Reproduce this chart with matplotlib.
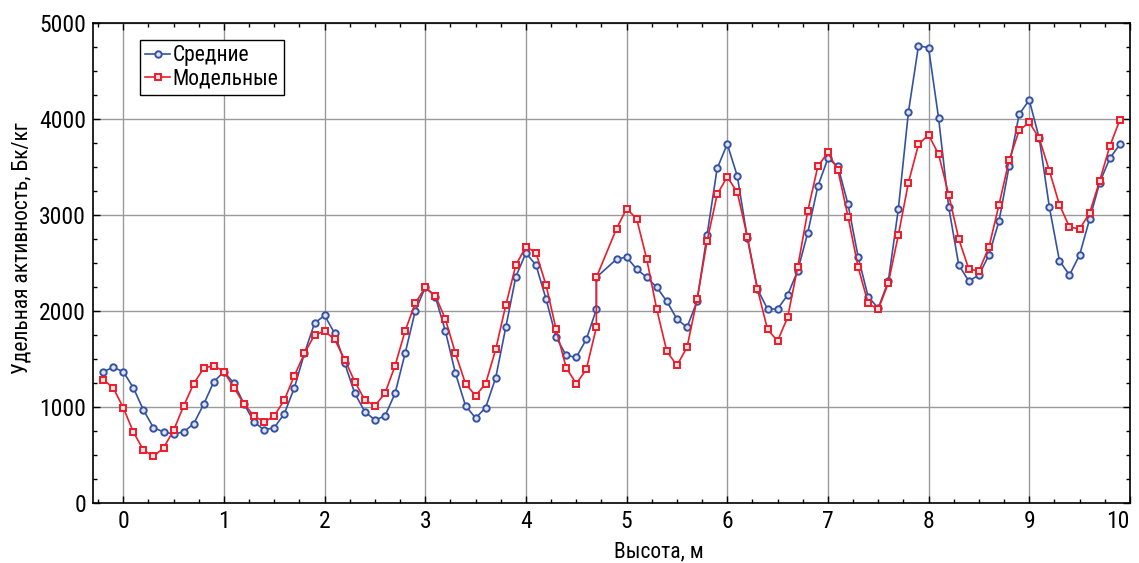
import matplotlib
matplotlib.use('Agg')
import matplotlib.pyplot as plt
from matplotlib.ticker import MultipleLocator
from matplotlib import font_manager

# heights (m); the point at 4.7 is repeated where the two profiles join
heights = [-0.2, -0.1, 0.0, 0.1, 0.2, 0.3, 0.4, 0.5, 0.6, 0.7,
           0.8, 0.9, 1.0, 1.1, 1.2, 1.3, 1.4, 1.5, 1.6, 1.7,
           1.8, 1.9, 2.0, 2.1, 2.2, 2.3, 2.4, 2.5, 2.6, 2.7,
           2.8, 2.9, 3.0, 3.1, 3.2, 3.3, 3.4, 3.5, 3.6, 3.7,
           3.8, 3.9, 4.0, 4.1, 4.2, 4.3, 4.4, 4.5, 4.6, 4.7,
           4.7, 4.9, 5.0, 5.1, 5.2, 5.3, 5.4, 5.5, 5.6, 5.7,
           5.8, 5.9, 6.0, 6.1, 6.2, 6.3, 6.4, 6.5, 6.6, 6.7,
           6.8, 6.9, 7.0, 7.1, 7.2, 7.3, 7.4, 7.5, 7.6, 7.7,
           7.8, 7.9, 8.0, 8.1, 8.2, 8.3, 8.4, 8.5, 8.6, 8.7,
           8.8, 8.9, 9.0, 9.1, 9.2, 9.3, 9.4, 9.5, 9.6, 9.7,
           9.8, 9.9]

mean_act = [1368, 1413, 1368, 1201, 969, 785, 740, 719, 740, 826,
            1031, 1264, 1368, 1247, 1031, 844, 760, 785, 930, 1201,
            1559, 1872, 1955, 1767, 1455, 1142, 951, 865, 906, 1142,
            1559, 1997, 2247, 2149, 1792, 1351, 1014, 885, 993, 1305,
            1830, 2358, 2605, 2479, 2125, 1726, 1538, 1517, 1705, 2017,
            2351, 2540, 2562, 2437, 2351, 2247, 2101, 1917, 1830, 2100,
            2795, 3486, 3740, 3406, 2757, 2229, 2021, 2021, 2167, 2420,
            2816, 3299, 3590, 3507, 3111, 2566, 2149, 2030, 2310, 3065,
            4073, 4764, 4743, 4007, 3083, 2479, 2312, 2375, 2583, 2937,
            3507, 4049, 4198, 3799, 3083, 2524, 2375, 2583, 2958, 3337,
            3590, 3736]

model_act = [1285, 1201, 993, 740, 552, 486, 573, 757, 1010, 1243,
             1406, 1430, 1368, 1201, 1031, 906, 844, 906, 1073, 1326,
             1559, 1750, 1790, 1705, 1493, 1264, 1073, 1014, 1142, 1430,
             1792, 2080, 2247, 2160, 1917, 1559, 1243, 1118, 1243, 1601,
             2059, 2479, 2670, 2608, 2271, 1809, 1410, 1243, 1392, 1830,
             2351, 2858, 3066, 2962, 2542, 2017, 1580, 1434, 1620, 2122,
             2729, 3215, 3399, 3236, 2774, 2229, 1809, 1688, 1934, 2458,
             3042, 3507, 3653, 3466, 2983, 2458, 2080, 2017, 2290, 2792,
             3337, 3736, 3836, 3632, 3212, 2750, 2437, 2417, 2667, 3108,
             3570, 3882, 3966, 3799, 3462, 3108, 2875, 2854, 3021, 3357,
             3716, 3990]

# pick the narrowest family that is installed
names = {f.name for f in font_manager.fontManager.ttflist}
family = 'DejaVu Sans'
for cand in ['Ubuntu Condensed', 'Roboto Condensed', 'Open Sans Condensed',
             'Liberation Sans Narrow', 'Roboto', 'Noto Sans']:
    if cand in names:
        family = cand
        break
plt.rcParams['font.family'] = [family, 'DejaVu Sans']

fig = plt.figure(figsize=(11.39, 5.63), dpi=100)
ax = fig.add_axes([0.0817, 0.1066, 0.9103, 0.8524])

ax.plot(heights, mean_act, color='#3452a4', lw=1.2, marker='o', ms=4.6,
        mfc='#dfe4f4', mec='#3452a4', mew=1.4, label='Средние', zorder=3)
ax.plot(heights, model_act, color='#ec1c2a', lw=1.2, marker='s', ms=4.6,
        mfc='#fde0e2', mec='#ec1c2a', mew=1.4, label='Модельные', zorder=4)

ax.set_xlim(-0.3, 10)
ax.set_ylim(0, 5000)
ax.xaxis.set_major_locator(MultipleLocator(1))
ax.xaxis.set_minor_locator(MultipleLocator(0.25))
ax.yaxis.set_major_locator(MultipleLocator(1000))
ax.yaxis.set_minor_locator(MultipleLocator(250))
ax.tick_params(which='both', direction='in', top=True, right=True,
               color='black', width=1)
ax.tick_params(which='major', length=5, labelsize=17, pad=5)
ax.tick_params(which='minor', length=3)
ax.grid(True, which='major', color='#9a9a9a', lw=1)
for s in ax.spines.values():
    s.set_linewidth(1.2)

ax.set_xlabel('Высота, м', fontsize=15.5)
ax.xaxis.set_label_coords(0.546, -0.08)
ax.set_ylabel('Удельная активность, Бк/кг', fontsize=15.5)
ax.yaxis.set_label_coords(-0.058, 0.532)

leg = ax.legend(loc='upper left', bbox_to_anchor=(0.0453, 0.965), fontsize=15.5,
                fancybox=False, framealpha=1, edgecolor='black',
                handlelength=1.15, handletextpad=0.1, borderpad=0.25,
                labelspacing=0.1, borderaxespad=0)
leg.get_frame().set_linewidth(1)

# the "10" label sits at the figure edge, keep it inside
fig.canvas.draw()
for tick in ax.xaxis.get_major_ticks():
    if abs(tick.get_loc() - 10) < 1e-9:
        tick.label1.set_horizontalalignment('right')

fig.savefig('out.png', dpi=100)
